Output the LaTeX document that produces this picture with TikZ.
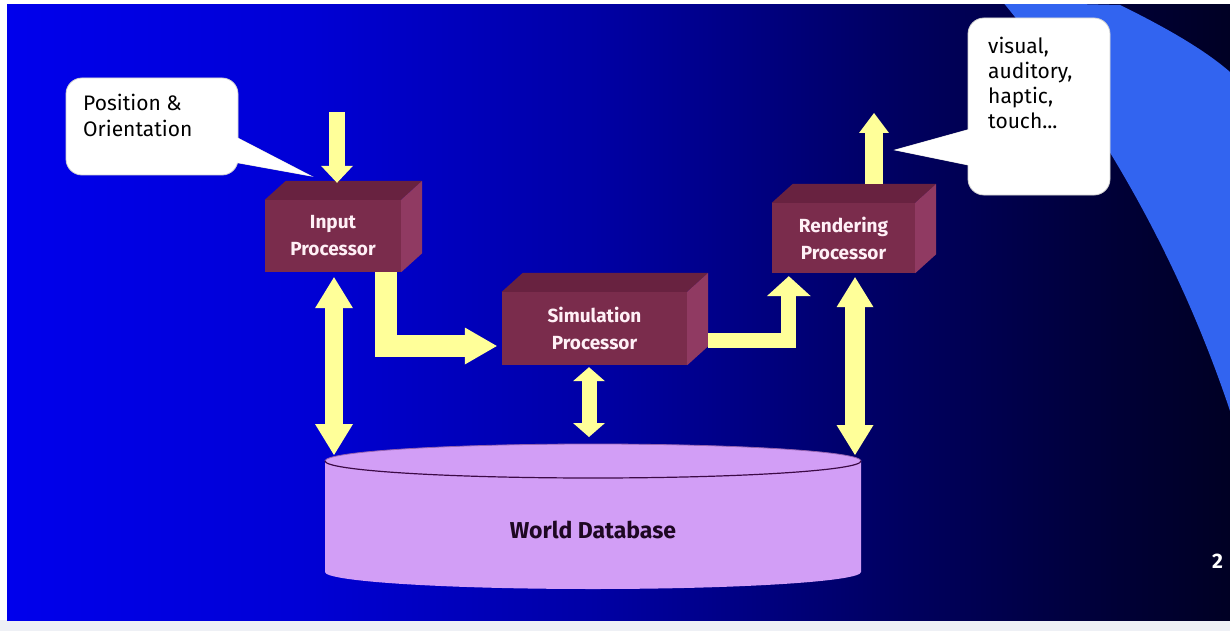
\documentclass[tikz,border=0pt]{standalone}
\usepackage{fontspec}
\setmainfont{Fira Sans}
\usetikzlibrary{arrows.meta,calc}
\definecolor{bgA}{RGB}{0,0,236}
\definecolor{bgB}{RGB}{0,0,214}
\definecolor{bgC}{RGB}{0,0,165}
\definecolor{bgD}{RGB}{0,0,96}
\definecolor{bgE}{RGB}{0,0,56}
\definecolor{bgF}{RGB}{0,0,36}
\definecolor{bandblue}{RGB}{50,100,240}
\definecolor{stripgray}{RGB}{238,240,245}
\definecolor{boxfront}{RGB}{122,44,76}
\definecolor{boxtop}{RGB}{104,34,64}
\definecolor{boxside}{RGB}{144,58,98}
\definecolor{boxtext}{RGB}{255,240,246}
\definecolor{ayellow}{RGB}{255,255,153}
\definecolor{dbfill}{RGB}{210,158,246}
\definecolor{dbline}{RGB}{60,10,70}
\definecolor{dbtext}{RGB}{30,8,34}
\pgfdeclarehorizontalshading{bgshade}{100bp}{color(0bp)=(bgA); color(25bp)=(bgA); color(37bp)=(bgB); color(49bp)=(bgC); color(61.5bp)=(bgD); color(70bp)=(bgE); color(75bp)=(bgF); color(100bp)=(bgF)}
\tikzset{
  procfront/.style={fill=boxfront, text=boxtext, font=\bfseries\fontsize{19}{27}\selectfont, align=center, inner sep=0pt},
  callout/.style={fill=white, draw=gray!35, line width=0.8pt, rounded corners=16pt, inner sep=0pt},
  calltext/.style={font=\fontsize{21}{26}\selectfont, align=left, inner sep=0pt, anchor=north west, text=black},
  bigarrow/.style={draw=ayellow, line join=miter},
}
\newcommand\procfaces[1]{%
  \fill[boxtop] (#1.north west) -- ($(#1.north west)+(21,-19)$) -- ($(#1.north east)+(21,-19)$) -- (#1.north east) -- cycle;
  \fill[boxside] (#1.north east) -- ($(#1.north east)+(21,-19)$) -- ($(#1.south east)+(21,-19)$) -- (#1.south east) -- cycle;}
\begin{document}
\begin{tikzpicture}[x=1pt,y=-1pt]
\useasboundingbox (0,0) rectangle (1230,631);
\fill[white] (0,0) rectangle (1230,631);
\fill[stripgray] (0,620) rectangle (1230,631);
\shade[shading=bgshade] (7,5) rectangle (1230,620);
% light blue band
\begin{scope}
  \clip (7,5) rectangle (1230,620);
  \clip (900,0) -- (1120,5) .. controls (1165,27) and (1205,50) .. (1230,72) -- (1230,700) -- (900,700) -- cycle;
  \fill[bandblue, even odd rule] (0,0) rectangle (1300,700) (14,818) circle (1282pt);
\end{scope}
% page number fragment
\node[font=\bfseries\fontsize{21}{21}\selectfont, text=white, anchor=base west, inner sep=0pt] (pg) at (1212,568) {2};

% callout 1
\filldraw[fill=white, draw=gray!35, line width=0.8pt] (228,133) -- (311,176) -- (228,161) -- cycle;
\node[callout, minimum width=172pt, minimum height=97pt] (c1) at (152,126.5) {};
\fill[white] (228,133) -- (311,176) -- (228,161) -- cycle;
\node[calltext] (c1t) at (83,94) {Position \&\\Orientation};

% callout 2
\filldraw[fill=white, draw=gray!35, line width=0.8pt] (978,127) -- (895,150) -- (978,167) -- cycle;
\node[callout, minimum width=142pt, minimum height=177pt] (c2) at (1039,106.5) {};
\fill[white] (978,127) -- (895,150) -- (978,167) -- cycle;
\node[calltext, font=\fontsize{21}{25}\selectfont] (c2t) at (988,37) {visual,\\auditory,\\haptic,\\touch...};

% database cylinder
\fill[dbfill] (325,461) -- (325,572) arc[start angle=180, end angle=0, x radius=268, y radius=17] -- (861,461) arc[start angle=0, end angle=-180, x radius=268, y radius=17] -- cycle;
\draw[dbline!40!dbfill, line width=0.8pt] (861,461) arc[start angle=0, end angle=-180, x radius=268, y radius=17];
\draw[dbline, line width=1.2pt] (325,461) arc[start angle=180, end angle=0, x radius=268, y radius=17];
\node[font=\bfseries\fontsize{23}{23}\selectfont, text=dbtext, inner sep=0pt] (db) at (593,530) {World Database};
\coordinate (dbL) at (334,455);
\coordinate (dbM) at (589,437);
\coordinate (dbR) at (855,455);

% processors
\node[procfront, minimum width=136pt, minimum height=72pt] (inp) at (333,236) {Input\\Processor};
\procfaces{inp}
\node[procfront, minimum width=185pt, minimum height=73pt] (sim) at (594.5,328.5) {Simulation\\Processor};
\procfaces{sim}
\node[procfront, minimum width=143pt, minimum height=70pt] (ren) at (843.5,238) {Rendering\\Processor};
\procfaces{ren}

\coordinate (posin) at (337,112);
\coordinate (rout) at (874,113);

% arrows
\draw[bigarrow, line width=16pt, -{Triangle[length=17pt, width=32pt, line width=0pt]}] (posin) -- ($(inp.north)+(4,-17)$);
\draw[bigarrow, line width=18pt, -{Triangle[length=20pt, width=30pt, line width=0pt]}] ($(ren.north)+(30.5,-19)$) -- (rout);
\draw[bigarrow, line width=22pt, -{Triangle[length=32pt, width=37pt, line width=0pt]}] ($(inp.south east)+(-15,0)$) |- ($(sim.west)+(-5,17.5)$);
\draw[bigarrow, line width=15pt, -{Triangle[length=20pt, width=44pt, line width=0pt]}] ($(sim.east)+(21,11.5)$) -| ($(ren.south west)+(17,3)$);
\draw[bigarrow, line width=18pt, {Triangle[length=31pt, width=38pt, line width=0pt]}-{Triangle[length=31pt, width=38pt, line width=0pt]}] ($(inp.south -| dbL)+(0,5)$) -- (dbL);
\draw[bigarrow, line width=15pt, {Triangle[length=14pt, width=32pt, line width=0pt]}-{Triangle[length=14pt, width=32pt, line width=0pt]}] ($(sim.south -| dbM)+(0,2)$) -- (dbM);
\draw[bigarrow, line width=20pt, {Triangle[length=30pt, width=37pt, line width=0pt]}-{Triangle[length=30pt, width=37pt, line width=0pt]}] ($(ren.south -| dbR)+(0,4)$) -- (dbR);
\end{tikzpicture}
\end{document}
